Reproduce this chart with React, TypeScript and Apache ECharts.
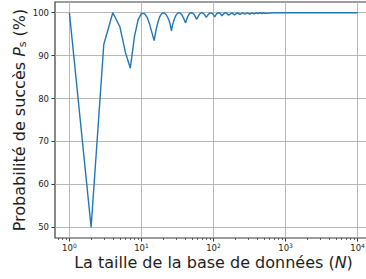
import React, { useEffect, useRef } from "react";
import * as echarts from "echarts";

const nValues = [
  1, 2, 3, 4, 5, 6, 7, 8, 9, 10, 11, 12, 13, 14, 15, 16, 17, 18, 19, 20,
  21, 22, 23, 24, 25, 26, 27, 28, 29, 30, 31, 32, 33, 34, 35, 36, 37, 38, 39, 40,
  41, 42, 43, 44, 45, 46, 47, 48, 49, 50, 51, 52, 53, 54, 55, 56, 57, 58, 59, 60,
  61, 62, 63, 65, 68, 70, 73, 75, 76, 77, 78, 79, 80, 84, 90, 97, 103, 104, 110, 118,
  125, 131, 132, 139, 147, 155, 162, 163, 180, 196, 197, 215, 233, 234, 254, 274, 275, 296, 318, 319,
  342, 365, 366, 390, 415, 442, 470, 499, 528, 700, 1000, 2000, 5000, 10000,
];
const successValues = [
  100, 50, 92.6, 100, 96.8, 90.7, 87.1, 94.5, 98.4, 99.85, 99.8, 98.9, 97.3, 95.3, 93.5, 96.1, 97.9, 99.1, 99.75, 99.99,
  99.9, 99.55, 99.0, 98.3, 97.4, 95.8, 97.1, 98.05, 98.8, 99.3, 99.7, 99.9, 100, 99.96, 99.82, 99.6, 99.28, 98.9, 98.5, 98.0,
  97.65, 98.23, 98.7, 99.12, 99.44, 99.7, 99.84, 99.95, 100, 99.99, 99.94, 99.84, 99.7, 99.52, 99.3, 99.08, 98.81, 98.5, 98.4, 98.75,
  99.03, 99.28, 99.5, 99.79, 99.99, 99.98, 99.8, 99.56, 99.41, 99.26, 99.09, 98.9, 98.8, 99.52, 99.98, 99.79, 99.2, 99.0, 99.72, 100,
  99.77, 99.3, 99.28, 99.82, 100, 99.81, 99.4, 99.43, 99.97, 99.5, 99.52, 99.98, 99.6, 99.58, 99.98, 99.65, 99.66, 99.99, 99.7, 99.7,
  99.99, 99.75, 99.76, 99.99, 99.8, 99.99, 99.82, 99.99, 99.85, 99.99, 99.99, 100, 100, 100,
];

const xMajorTicks = [1, 10, 100, 1000, 10000];
const minorMantissas = [2, 3, 4, 5, 6, 7, 8, 9];
const minorDecades = [0.1, 1, 10, 100, 1000, 10000];
const yTicks = [50, 60, 70, 80, 90, 100];

const xTitle = "La taille de la base de données (";
const xTitleVar = "N";
const yTitle = "Probabilité de succès ";
const yTitleVar = "P";
const yTitleSub = "s";
const yTitleEnd = " (%)";

const FONT = "DejaVu Sans";
const SPINE = "#3a3a3a";
const TEXT = "#1e1e1e";

export default function App() {
  const ref = useRef<HTMLDivElement>(null);
  useEffect(() => {
    if (!ref.current) return;
    const chart = echarts.init(ref.current, undefined, { renderer: "svg" });
    const minorTicks: number[] = [];
    minorDecades.forEach((d) => minorMantissas.forEach((m) => minorTicks.push(+(m * d).toPrecision(6))));
    const xMin = Math.pow(10, -0.2);
    const xMax = Math.pow(10, 4.2);
    const lineData = nValues.map((n, i) => [n, successValues[i]]);
    chart.setOption({
      animation: false,
      grid: {
        left: 55,
        top: 2,
        width: 317,
        height: 236,
        show: true,
        borderColor: SPINE,
        borderWidth: 1.2,
        backgroundColor: "transparent",
        containLabel: false,
        outerBoundsMode: "none",
      },
      xAxis: [
        {
          type: "log",
          logBase: 10,
          min: xMin,
          max: xMax,
          position: "bottom",
          axisLine: { show: false },
          axisTick: {
            show: true,
            customValues: xMajorTicks,
            length: 3.5,
            lineStyle: { color: SPINE, width: 1 },
          },
          minorTick: { show: false },
          splitLine: {
            show: true,
            customValues: xMajorTicks,
            lineStyle: { color: "#b0b0b0", width: 0.9 },
          },
          axisLabel: {
            show: true,
            customValues: xMajorTicks,
            margin: 4,
            hideOverlap: false,
            formatter: (v: number) => `{b|10}{s|${Math.round(Math.log10(v))}}`,
            rich: {
              b: { fontFamily: FONT, fontSize: 8.5, color: TEXT },
              s: { fontFamily: FONT, fontSize: 6, color: TEXT, padding: [0, 0, 6, 0] },
            },
          },
          name: `{t|${xTitle}}{i|${xTitleVar}}{t|)}`,
          nameLocation: "middle",
          nameGap: 16,
          nameMoveOverlap: false,
          nameTextStyle: {
            rich: {
              t: { fontFamily: FONT, fontSize: 16, color: TEXT },
              i: { fontFamily: FONT, fontSize: 16, color: TEXT, fontStyle: "italic" },
            },
          },
        },
        {
          type: "log",
          logBase: 10,
          min: xMin,
          max: xMax,
          position: "bottom",
          axisLine: { show: false },
          axisTick: {
            show: true,
            customValues: minorTicks,
            length: 2,
            lineStyle: { color: SPINE, width: 0.8 },
          },
          axisLabel: { show: false },
          splitLine: { show: false },
        },
      ],
      yAxis: {
        type: "value",
        min: 47.5,
        max: 102.5,
        axisLine: { show: false },
        axisTick: {
          show: true,
          customValues: yTicks,
          length: 3.5,
          lineStyle: { color: SPINE, width: 1 },
        },
        splitLine: {
          show: true,
          customValues: yTicks,
          lineStyle: { color: "#b0b0b0", width: 0.9 },
        },
        axisLabel: {
          show: true,
          customValues: yTicks,
          margin: 6,
          fontFamily: FONT,
          fontSize: 8.5,
          color: TEXT,
          formatter: (v: number) => String(v),
        },
        name: `{t|${yTitle}}{i|${yTitleVar}}{u|${yTitleSub}}{t|${yTitleEnd}}`,
        nameLocation: "middle",
        nameRotate: 90,
        nameGap: 27,
        nameMoveOverlap: false,
        nameTextStyle: {
          rich: {
            t: { fontFamily: FONT, fontSize: 16, color: TEXT },
            i: { fontFamily: FONT, fontSize: 16, color: TEXT, fontStyle: "italic" },
            u: { fontFamily: FONT, fontSize: 11, color: TEXT, padding: [6, 0, 0, 0] },
          },
        },
      },
      series: [
        {
          type: "line",
          xAxisIndex: 0,
          data: lineData,
          showSymbol: false,
          symbol: "none",
          lineStyle: { color: "#1f77b4", width: 1.4 },
          z: 5,
        },
      ],
    });
    return () => chart.dispose();
  }, []);
  return (
    <div
      ref={ref}
      style={{ position: "fixed", left: 0, top: 0, width: 380, height: 279, background: "#fff" }}
    />
  );
}
